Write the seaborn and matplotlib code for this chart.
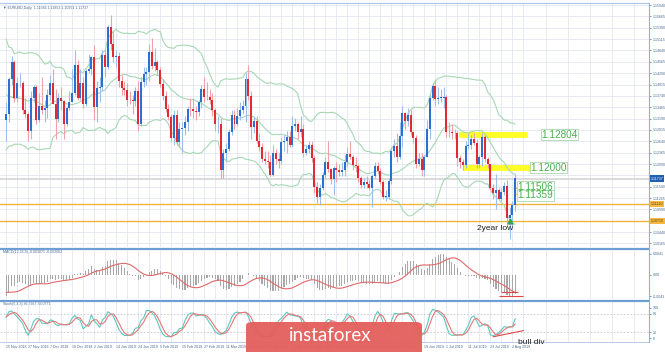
import numpy as np
import pandas as pd
import matplotlib
matplotlib.use("Agg")
import matplotlib.pyplot as plt
import seaborn as sns
from matplotlib.lines import Line2D
from matplotlib.patches import FancyBboxPatch
import matplotlib.transforms as mtrans

sns.set_style("white")
plt.rcParams['font.family'] = ['Liberation Sans', 'DejaVu Sans']

# ---------------- data (EURUSD daily) ----------------
warmup_closes = [1.1500, 1.1455, 1.1515, 1.1465, 1.1470, 1.1390, 1.1375, 1.1400, 1.1370, 1.1345,
                 1.1310, 1.1405, 1.1388, 1.1405, 1.1430, 1.1430, 1.1360, 1.1335, 1.1220, 1.1285, 1.1315]

opens = [
    # Nov 2018
    1.1315, 1.1330, 1.1415, 1.1455, 1.1370, 1.1405, 1.1405, 1.1340, 1.1330, 1.1290, 1.1370, 1.1395,
    # Dec
    1.1315, 1.1350, 1.1340, 1.1345, 1.1375, 1.1405, 1.1355, 1.1317, 1.1370, 1.1362, 1.1305, 1.1345,
    1.1360, 1.1380, 1.1450, 1.1370, 1.1405, 1.1355, 1.1435, 1.1440,
    # Jan 2019
    1.1467, 1.1346, 1.1392, 1.1395, 1.1474, 1.1443, 1.1540, 1.1500, 1.1467, 1.1470, 1.1410, 1.1393,
    1.1389, 1.1364, 1.1363, 1.1362, 1.1385, 1.1305, 1.1407, 1.1428, 1.1432, 1.1480,
    # Feb
    1.1447, 1.1455, 1.1436, 1.1403, 1.1374, 1.1342, 1.1324, 1.1273, 1.1328, 1.1262, 1.1295, 1.1296,
    1.1310, 1.1343, 1.1342, 1.1337, 1.1334, 1.1360, 1.1390, 1.1372,
    # Mar
    1.1371, 1.1364, 1.1339, 1.1306, 1.1307, 1.1194, 1.1235, 1.1245, 1.1287, 1.1327, 1.1306, 1.1325,
    1.1340, 1.1350, 1.1416, 1.1374, 1.1299, 1.1313, 1.1265, 1.1250, 1.1222,
    # Apr
    1.1217, 1.1213, 1.1183, 1.1235, 1.1221, 1.1216, 1.1262, 1.1265, 1.1275, 1.1255, 1.1300, 1.1305,
    1.1286, 1.1295, 1.1236, 1.1246, 1.1256, 1.1224, 1.1154, 1.1130, 1.1150, 1.1183,
    # May
    1.1215, 1.1196, 1.1172, 1.1200, 1.1195, 1.1190, 1.1194, 1.1214, 1.1233, 1.1225, 1.1206, 1.1203,
    1.1174, 1.1157, 1.1165, 1.1161, 1.1152, 1.1180, 1.1205, 1.1192, 1.1165, 1.1130, 1.1130,
    # Jun
    1.1168, 1.1240, 1.1253, 1.1225, 1.1276, 1.1333, 1.1313, 1.1327, 1.1286, 1.1273, 1.1210, 1.1220,
    1.1194, 1.1227, 1.1293, 1.1370, 1.1398, 1.1366, 1.1370, 1.1370,
    # Jul
    1.1372, 1.1287, 1.1286, 1.1283, 1.1284, 1.1224, 1.1214, 1.1207, 1.1252, 1.1256, 1.1270, 1.1259,
    1.1210, 1.1225, 1.1275, 1.1220, 1.1210, 1.1150, 1.1139, 1.1145, 1.1125, 1.1142, 1.1155,
    # Aug
    1.1078, 1.1085, 1.1109]

highs = [
    1.1360, 1.1420, 1.1470, 1.1460, 1.1420, 1.1430, 1.1410, 1.1370, 1.1335, 1.1385, 1.1400, 1.1400,
    1.1380, 1.1420, 1.1365, 1.1390, 1.1425, 1.1440, 1.1390, 1.1380, 1.1395, 1.1365, 1.1350, 1.1385,
    1.1440, 1.1485, 1.1460, 1.1440, 1.1420, 1.1440, 1.1475, 1.1470,
    1.1497, 1.1410, 1.1420, 1.1485, 1.1485, 1.1545, 1.1570, 1.1530, 1.1485, 1.1480, 1.1425, 1.1410,
    1.1405, 1.1385, 1.1375, 1.1395, 1.1410, 1.1420, 1.1445, 1.1445, 1.1500, 1.1515,
    1.1490, 1.1460, 1.1445, 1.1415, 1.1385, 1.1355, 1.1330, 1.1340, 1.1340, 1.1310, 1.1310, 1.1325,
    1.1350, 1.1370, 1.1370, 1.1350, 1.1365, 1.1400, 1.1420, 1.1408,
    1.1390, 1.1380, 1.1345, 1.1325, 1.1320, 1.1245, 1.1260, 1.1295, 1.1340, 1.1340, 1.1345, 1.1360,
    1.1365, 1.1430, 1.1450, 1.1385, 1.1325, 1.1325, 1.1285, 1.1260, 1.1240,
    1.1240, 1.1230, 1.1255, 1.1245, 1.1235, 1.1275, 1.1280, 1.1290, 1.1290, 1.1325, 1.1320, 1.1310,
    1.1325, 1.1305, 1.1255, 1.1265, 1.1265, 1.1230, 1.1165, 1.1160, 1.1190, 1.1225,
    1.1265, 1.1200, 1.1205, 1.1215, 1.1210, 1.1215, 1.1230, 1.1250, 1.1265, 1.1230, 1.1225, 1.1210,
    1.1180, 1.1175, 1.1180, 1.1170, 1.1185, 1.1215, 1.1215, 1.1200, 1.1170, 1.1145, 1.1175,
    1.1250, 1.1270, 1.1285, 1.1310, 1.1350, 1.1335, 1.1345, 1.1340, 1.1290, 1.1280, 1.1235, 1.1235,
    1.1230, 1.1315, 1.1375, 1.1405, 1.1412, 1.1395, 1.1390, 1.1395,
    1.1375, 1.1310, 1.1305, 1.1295, 1.1290, 1.1230, 1.1220, 1.1265, 1.1285, 1.1280, 1.1285, 1.1270,
    1.1230, 1.1285, 1.1280, 1.1225, 1.1210, 1.1160, 1.1185, 1.1150, 1.1150, 1.1165, 1.1170,
    1.1105, 1.1120, 1.1185]

lows = [
    1.1265, 1.1310, 1.1400, 1.1360, 1.1360, 1.1395, 1.1330, 1.1320, 1.1265, 1.1270, 1.1360, 1.1305,
    1.1310, 1.1330, 1.1310, 1.1320, 1.1365, 1.1355, 1.1270, 1.1310, 1.1340, 1.1270, 1.1300, 1.1340,
    1.1360, 1.1375, 1.1365, 1.1365, 1.1345, 1.1350, 1.1430, 1.1425,
    1.1315, 1.1310, 1.1360, 1.1385, 1.1420, 1.1440, 1.1485, 1.1455, 1.1445, 1.1395, 1.1375, 1.1375,
    1.1350, 1.1355, 1.1330, 1.1350, 1.1290, 1.1300, 1.1395, 1.1400, 1.1410, 1.1440,
    1.1435, 1.1425, 1.1395, 1.1365, 1.1335, 1.1315, 1.1265, 1.1255, 1.1255, 1.1250, 1.1235, 1.1280,
    1.1290, 1.1325, 1.1320, 1.1315, 1.1325, 1.1345, 1.1360, 1.1365,
    1.1355, 1.1325, 1.1290, 1.1285, 1.1176, 1.1175, 1.1215, 1.1240, 1.1280, 1.1295, 1.1300, 1.1315,
    1.1330, 1.1310, 1.1365, 1.1270, 1.1285, 1.1260, 1.1240, 1.1215, 1.1210,
    1.1200, 1.1180, 1.1180, 1.1210, 1.1200, 1.1210, 1.1240, 1.1235, 1.1250, 1.1250, 1.1290, 1.1270,
    1.1275, 1.1225, 1.1230, 1.1235, 1.1215, 1.1140, 1.1115, 1.1110, 1.1145, 1.1175,
    1.1190, 1.1160, 1.1135, 1.1165, 1.1180, 1.1180, 1.1180, 1.1205, 1.1220, 1.1195, 1.1190, 1.1165,
    1.1150, 1.1150, 1.1150, 1.1145, 1.1105, 1.1175, 1.1185, 1.1160, 1.1125, 1.1120, 1.1125,
    1.1160, 1.1225, 1.1215, 1.1220, 1.1250, 1.1295, 1.1300, 1.1280, 1.1260, 1.1200, 1.1205, 1.1180,
    1.1180, 1.1225, 1.1270, 1.1365, 1.1350, 1.1355, 1.1360, 1.1345,
    1.1275, 1.1275, 1.1270, 1.1270, 1.1205, 1.1200, 1.1195, 1.1200, 1.1245, 1.1245, 1.1255, 1.1200,
    1.1200, 1.1205, 1.1215, 1.1200, 1.1145, 1.1125, 1.1100, 1.1125, 1.1120, 1.1135, 1.1060,
    1.1027, 1.1060, 1.1095]

closes = [
    1.1330, 1.1415, 1.1455, 1.1370, 1.1405, 1.1405, 1.1340, 1.1330, 1.1290, 1.1370, 1.1395, 1.1315,
    1.1350, 1.1340, 1.1345, 1.1375, 1.1405, 1.1355, 1.1317, 1.1370, 1.1362, 1.1305, 1.1345, 1.1360,
    1.1380, 1.1450, 1.1370, 1.1405, 1.1355, 1.1435, 1.1440, 1.1467,
    1.1346, 1.1392, 1.1395, 1.1474, 1.1443, 1.1540, 1.1500, 1.1467, 1.1470, 1.1410, 1.1393, 1.1389,
    1.1364, 1.1363, 1.1362, 1.1385, 1.1305, 1.1407, 1.1428, 1.1432, 1.1480, 1.1447,
    1.1455, 1.1436, 1.1403, 1.1374, 1.1342, 1.1324, 1.1273, 1.1328, 1.1262, 1.1295, 1.1296, 1.1310,
    1.1343, 1.1342, 1.1337, 1.1334, 1.1360, 1.1390, 1.1372, 1.1371,
    1.1364, 1.1339, 1.1306, 1.1307, 1.1194, 1.1235, 1.1245, 1.1287, 1.1327, 1.1306, 1.1325, 1.1340,
    1.1350, 1.1416, 1.1374, 1.1299, 1.1313, 1.1265, 1.1250, 1.1222, 1.1217,
    1.1213, 1.1183, 1.1235, 1.1221, 1.1216, 1.1262, 1.1265, 1.1275, 1.1255, 1.1300, 1.1305, 1.1286,
    1.1295, 1.1236, 1.1246, 1.1256, 1.1224, 1.1154, 1.1130, 1.1150, 1.1183, 1.1215,
    1.1196, 1.1172, 1.1200, 1.1195, 1.1190, 1.1194, 1.1214, 1.1233, 1.1225, 1.1206, 1.1203, 1.1174,
    1.1157, 1.1165, 1.1161, 1.1152, 1.1180, 1.1205, 1.1192, 1.1165, 1.1130, 1.1130, 1.1168,
    1.1240, 1.1253, 1.1225, 1.1276, 1.1333, 1.1313, 1.1327, 1.1286, 1.1273, 1.1210, 1.1220, 1.1194,
    1.1227, 1.1293, 1.1370, 1.1398, 1.1366, 1.1370, 1.1370, 1.1372,
    1.1287, 1.1286, 1.1283, 1.1284, 1.1224, 1.1214, 1.1207, 1.1252, 1.1256, 1.1270, 1.1259, 1.1210,
    1.1225, 1.1275, 1.1220, 1.1210, 1.1150, 1.1139, 1.1145, 1.1125, 1.1142, 1.1155, 1.1078,
    1.1085, 1.1109, 1.1174]

date_labels = ["15 Nov 2018", "27 Nov 2018", "7 Dec 2018", "19 Dec 2018", "2 Jan 2019", "14 Jan 2019",
               "24 Jan 2019", "5 Feb 2019", "15 Feb 2019", "27 Feb 2019", "11 Mar 2019", "21 Mar 2019",
               "2 Apr 2019", "12 Apr 2019", "24 Apr 2019", "6 May 2019", "16 May 2019", "28 May 2019",
               "7 Jun 2019", "19 Jun 2019", "1 Jul 2019", "11 Jul 2019", "23 Jul 2019", "2 Aug 2019"]
date_label_index = [0, 8, 16, 24, 32, 40, 48, 56, 64, 72, 80, 88, 96, 104, 112, 120, 128, 136,
                    144, 152, 160, 168, 176, 184]

price_ticks = [1.15940, 1.15665, 1.15390, 1.15115, 1.14840, 1.14565, 1.14290, 1.14015, 1.13740,
               1.13465, 1.13190, 1.12915, 1.12640, 1.12365, 1.12090, 1.11815, 1.11540, 1.11265,
               1.10990, 1.10715, 1.10440, 1.10165]

current_price = 1.11737
support_levels = [1.11120, 1.10710]
resistance_zones = [1.12804, 1.12000]
zone_start = [164.5, 166.0]
zone_end = [189.5, 190.5]
small_levels = [1.11506, 1.11359]
level_labels = ["1.12804", "1.12000", "1.11506", "1.11359"]
level_values = [1.12804, 1.12000, 1.11506, 1.11359]
stoch_div_index = [177, 188]
stoch_div_value = [5, 25]

# ---------------- indicators ----------------
n = len(closes)
idx = np.arange(n)
o = np.array(opens); h = np.array(highs); l = np.array(lows); c = np.array(closes)
allc = pd.Series(warmup_closes + closes)
w = len(warmup_closes)
mid = allc.rolling(20).mean()
sd = allc.rolling(20).std(ddof=0)
bb_up = (mid + 2 * sd).values[w:]
bb_lo = (mid - 2 * sd).values[w:]
bb_mid = mid.values[w:]

ema12 = allc.ewm(span=12, adjust=False).mean()
ema26 = allc.ewm(span=26, adjust=False).mean()
macd_all = ema12 - ema26
sig_all = macd_all.rolling(9).mean()
macd = macd_all.values[w:]
sig = sig_all.values[w:]

hs, ls, cs = pd.Series(h), pd.Series(l), pd.Series(c)
LL = ls.rolling(5, min_periods=1).min()
HH = hs.rolling(5, min_periods=1).max()
K = 100 * (cs - LL).rolling(3, min_periods=1).sum() / (HH - LL).rolling(3, min_periods=1).sum()
D = K.rolling(3, min_periods=1).mean()

# ---------------- figure ----------------
W, H = 665, 352
fig = plt.figure(figsize=(W / 100, H / 100), dpi=100)
fig.patch.set_facecolor("white")
AXR = 649
axw = AXR / W
ax1 = fig.add_axes([0, 105 / H, axw, 244 / H])
ax2 = fig.add_axes([0, 53 / H, axw, 48 / H], sharex=ax1)
ax3 = fig.add_axes([0, 10 / H, axw, 40 / H], sharex=ax1)

grid_c = "#e3e7ee"
lab_c = "#4a6a90"
tiny = 2.6
for ax in (ax1, ax2, ax3):
    for s in ax.spines.values():
        s.set_visible(False)
    ax.set_facecolor("white")
    ax.yaxis.tick_right()
    ax.tick_params(axis="y", labelsize=tiny, colors=lab_c, length=1.5, pad=1, width=0.5)
    ax.set_xticks(np.arange(0, 236, 8))
    ax.set_xticks(np.arange(4, 236, 8), minor=True)
    ax.grid(True, which="both", axis="x", color=grid_c, lw=0.6)
    ax.set_axisbelow(True)
ax1.set_xlim(-2.2, 233.6)

# main panel
ax1.set_ylim(1.1008, 1.1599)
box_levels = [current_price] + support_levels
shown_ticks = [t for t in price_ticks if min(abs(t - b) for b in box_levels) > 0.0010]
ax1.set_yticks(price_ticks)
ax1.set_yticklabels([f"{v:.5f}" if v in shown_ticks else "" for v in price_ticks])
ax1.grid(True, axis="y", color=grid_c, lw=0.6)
ax1.tick_params(axis="x", labelbottom=False, length=0, which="both")

# horizontal levels
ax1.axhline(current_price, color="#d4d4d4", lw=1.2, zorder=1)
for lv in support_levels:
    ax1.axhline(lv, color="#f2b33d", lw=1.0, zorder=1)
for lv, s0, s1 in zip(resistance_zones, zone_start, zone_end):
    ax1.hlines(lv, s0, s1, color="#ffff1a", lw=4.2, alpha=0.95, zorder=2)
ax1.plot([zone_end[1] + 0.6], [resistance_zones[1]], marker=">", color="#ffff1a", ms=4, zorder=2)
for lv in small_levels:
    ax1.hlines(lv, 184.3, 186.2, color="#f2d21d", lw=1.0, zorder=2)

# Bollinger bands
bb_col = "#a6d8b4"
for band in (bb_up, bb_mid, bb_lo):
    sns.lineplot(x=idx, y=band, ax=ax1, color=bb_col, lw=0.8, zorder=3)

# candles
bull = c >= o
wick_cols = np.where(bull, "#9cc0ea", "#f0a0a6")
body_cols = np.where(bull, "#2a6fd2", "#e32a32")
ax1.vlines(idx, l, h, colors=wick_cols, lw=0.8, zorder=4)
body_h = np.where(np.abs(c - o) < 0.00004, 0.00004, c - o)
ax1.bar(idx, body_h, bottom=o, width=0.72, color=body_cols, lw=0, zorder=5)
ax1.plot([183], [1.1072], marker="^", color="#3aa44a", ms=3.5, zorder=6)

# level labels (the two lower ones are stacked just apart so they do not collide)
lab_pos = [194.5, 190.5, 185.8, 185.8]
lab_y = [1.12804, 1.12000, 1.11540, 1.11330]
for txt, ly, xp in zip(level_labels, lab_y, lab_pos):
    ax1.text(xp, ly, txt, fontsize=7.2, color="#44b04a", va="center", ha="left", zorder=7,
             bbox=dict(boxstyle="square,pad=0.04", fc="white", ec="#a8d8a8", lw=0.6))
ax1.text(171, 1.1054, "2year low", fontsize=6, color="#222222", va="center", ha="left", zorder=7)

# right-side price boxes
tr = mtrans.blended_transform_factory(ax1.transAxes, ax1.transData)
ax1.text(1.002, current_price, f"{current_price:.5f}", transform=tr, fontsize=tiny, color="white",
         va="center", ha="left", bbox=dict(boxstyle="square,pad=0.35", fc="#1f5fb4", ec="none"), zorder=8,
         clip_on=False)
for lv in support_levels:
    ax1.text(1.002, lv, f"{lv:.5f}", transform=tr, fontsize=tiny, color="#5a4000",
             va="center", ha="left", bbox=dict(boxstyle="square,pad=0.35", fc="#f5b942", ec="none"),
             zorder=8, clip_on=False)

# MACD panel
ax2.bar(idx, macd, width=0.4, color="#a8a8a8", lw=0, zorder=3)
sns.lineplot(x=idx, y=sig, ax=ax2, color="#e06a6a", lw=0.8, zorder=4)
mlo, mhi = np.nanmin(macd), np.nanmax(macd)
pad = (mhi - mlo) * 0.06
ax2.set_ylim(mlo - pad, mhi + pad)
ax2.set_yticks([mhi, 0, mlo])
ax2.set_yticklabels([f"{mhi:.4f}", "0.00", f"{mlo:.4f}"])
ax2.tick_params(axis="x", labelbottom=False, length=0, which="both")
div_level = np.nanmin(macd[176:])
ax2.hlines(div_level, 179, 188, color="#e04848", lw=0.8, zorder=5)
ax2.hlines(sig[-1], 180, 186, color="#e04848", lw=0.8, zorder=5)

# Stochastic panel
sns.lineplot(x=idx, y=K.values, ax=ax3, color="#5ec8c0", lw=0.8, zorder=4)
sns.lineplot(x=idx, y=D.values, ax=ax3, color="#e87878", lw=0.8, zorder=4)
ax3.plot(stoch_div_index, stoch_div_value, color="#e04848", lw=0.8, zorder=5)
ax3.set_ylim(-12, 118)
ax3.set_yticks([100, 80, 20, 0])
ax3.set_yticklabels(["100", "80", "20", "0"])
for lv in (20, 80):
    ax3.axhline(lv, color="#c8c8c8", lw=0.6, ls=(0, (2, 2)), zorder=2)
ax3.set_xticks(date_label_index)
ax3.set_xticklabels(date_labels)
ax3.tick_params(axis="x", labelsize=tiny, colors=lab_c, length=1.5, pad=1, width=0.5)
for t in ax3.get_xticklabels():
    t.set_ha("left")
for ax in (ax1, ax2, ax3):
    ax.set_xlabel("")
    ax.set_ylabel("")

# panel separators / frame
sep_c = "#6e9ed6"
fig.add_artist(Line2D([0, axw], [1 - 248.5 / H, 1 - 248.5 / H], color=sep_c, lw=1.6))
fig.add_artist(Line2D([0, axw], [1 - 300.5 / H, 1 - 300.5 / H], color=sep_c, lw=1.6))
fig.add_artist(Line2D([0, axw], [1 - 2.5 / H, 1 - 2.5 / H], color="#a9c4e6", lw=0.8))
fig.add_artist(Line2D([0, axw], [1 - 342 / H, 1 - 342 / H], color="#a9c4e6", lw=0.6))
fig.add_artist(Line2D([axw, axw], [1 - 342 / H, 1 - 2.5 / H], color="#8fb0d8", lw=0.8))

# headers
fig.text(3 / W, 1 - 7.5 / H, "▼ EURUSD,Daily  1.11086 1.11853 1.10951 1.11737", fontsize=tiny,
         color=lab_c, va="center", ha="left")
fig.text(3 / W, 1 - 252.5 / H, "MACD(12,26,9) -0.003071 -0.002062", fontsize=tiny,
         color=lab_c, va="center", ha="left")
fig.text(3 / W, 1 - 304.5 / H, "Stoch(5,3,3) 36.7967 33.0771", fontsize=tiny,
         color=lab_c, va="center", ha="left")
fig.text(518 / W, 1 - 342 / H, "bull div", fontsize=6, color="#222222", va="center", ha="left")

# watermark
fig.add_artist(FancyBboxPatch((246 / W, -10 / H), 176 / W, 40 / H,
                              boxstyle="round,pad=0,rounding_size=0.01", transform=fig.transFigure,
                              fc="#e35f5c", ec="none", alpha=0.95, zorder=10))
fig.text(289 / W, 1 - 335.5 / H, "instaforex", fontsize=13.5, color="white", va="center", ha="left",
         family=["Lato", "DejaVu Sans"], zorder=11)

fig.savefig("out.png", dpi=100)
